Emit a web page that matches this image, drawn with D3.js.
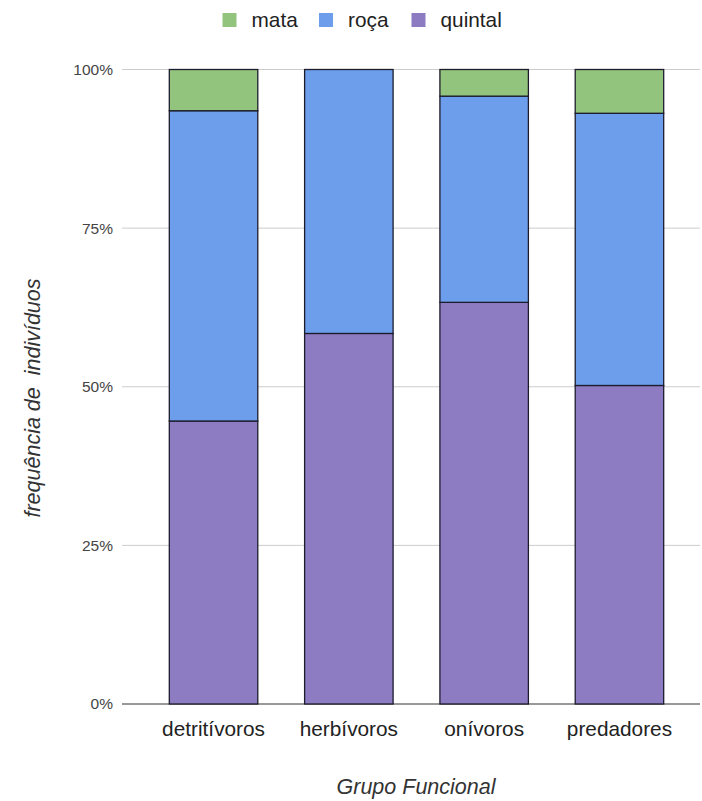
<!DOCTYPE html>
<html>
<head>
<meta charset="utf-8">
<script src="https://cdn.jsdelivr.net/npm/d3@7"></script>
<style>
  html, body { margin: 0; padding: 0; background: #fff; }
  svg { display: block; font-family: "Liberation Sans", Arial, sans-serif; }
</style>
</head>
<body>
<svg id="chart" width="702" height="801"></svg>
<script>
const categories = ["detritívoros", "herbívoros", "onívoros", "predadores"];
const seriesNames = ["quintal", "roça", "mata"];
const quintal = [44.6, 58.4, 63.3, 50.2];
const roca = [48.9, 41.6, 32.5, 42.9];
const mata = [6.5, 0.0, 4.2, 6.9];
const yTickValues = [0, 25, 50, 75, 100];
const yTickLabels = ["0%", "25%", "50%", "75%", "100%"];
const legendOrder = ["mata", "roça", "quintal"];
const colors = { "mata": "#93c47d", "roça": "#6d9eeb", "quintal": "#8e7cc3" };

const rows = categories.map((c, i) => ({ cat: c, "quintal": quintal[i], "roça": roca[i], "mata": mata[i] }));
const stack = d3.stack().keys(seriesNames);
const stacked = stack(rows);

const svg = d3.select("#chart");
const x = d3.scaleBand().domain(categories).range([145.9, 687.1]).paddingInner(0.346).paddingOuter(0.173);
const y = d3.scaleLinear().domain([0, 100]).range([704, 69.5]);

// gridlines
svg.append("g").selectAll("line").data(yTickValues).join("line")
  .attr("x1", 122).attr("x2", 700)
  .attr("y1", d => y(d)).attr("y2", d => y(d))
  .attr("stroke", d => d === 0 ? "#333" : "#ccc")
  .attr("stroke-width", 1);

// y tick labels
const yAxis = d3.axisLeft(y).tickValues(yTickValues).tickSize(0).tickPadding(0)
  .tickFormat((d, i) => yTickLabels[i]);
const gy = svg.append("g").attr("transform", "translate(113,0)").call(yAxis);
gy.select(".domain").remove();
gy.selectAll("text").attr("font-size", 15.5).attr("fill", "#444")
  .attr("font-family", "'Liberation Sans', Arial, sans-serif");

// bars
svg.append("g").selectAll("g").data(stacked).join("g")
  .attr("fill", d => colors[d.key])
  .selectAll("rect").data(d => d).join("rect")
  .attr("x", d => x(d.data.cat))
  .attr("width", x.bandwidth())
  .attr("y", d => y(d[1]))
  .attr("height", d => y(d[0]) - y(d[1]))
  .attr("stroke", "#1c1c2c")
  .attr("stroke-width", 1.3);

// x labels
const xAxis = d3.axisBottom(x).tickSize(0).tickPadding(0);
const gx = svg.append("g").attr("transform", "translate(0,721)").call(xAxis);
gx.select(".domain").remove();
gx.selectAll("text").attr("font-size", 20.8).attr("fill", "#222")
  .attr("font-family", "'Liberation Sans', Arial, sans-serif");

// axis titles
svg.append("text").attr("x", 416).attr("y", 794).attr("text-anchor", "middle")
  .attr("font-size", 21.5).attr("font-style", "italic").attr("fill", "#333")
  .text("Grupo Funcional");
svg.append("text").attr("transform", "translate(40,398) rotate(-90)")
  .attr("text-anchor", "middle").attr("font-size", 21.5).attr("font-style", "italic")
  .attr("fill", "#333").style("white-space", "pre")
  .text("frequência de  indivíduos");

// legend
const legendX = [222.5, 319, 411.5];
const lg = svg.append("g").selectAll("g").data(legendOrder).join("g")
  .attr("transform", (d, i) => `translate(${legendX[i]},13)`);
lg.append("rect").attr("width", 14).attr("height", 14).attr("fill", d => colors[d]);
lg.append("text").attr("x", 29).attr("y", 14).attr("font-size", 20.8).attr("fill", "#222").text(d => d);
</script>
</body>
</html>
